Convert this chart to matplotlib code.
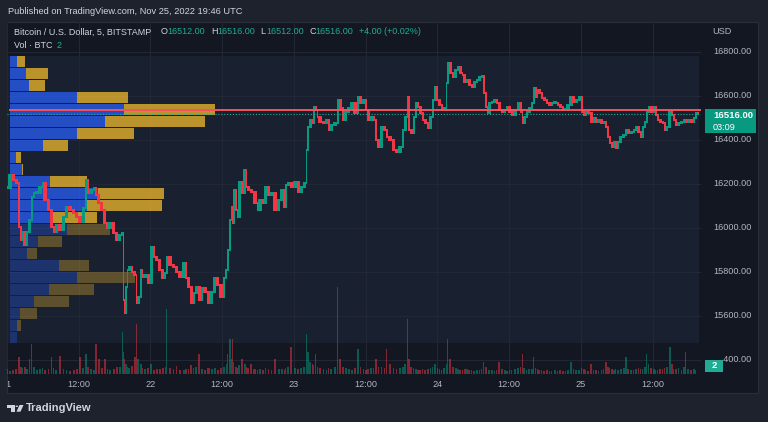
import matplotlib
matplotlib.use("Agg")
import matplotlib.pyplot as plt
import matplotlib.transforms as mtransforms
from matplotlib.patches import Rectangle, Polygon, Circle

plt.rcParams['font.family'] = ['Liberation Sans', 'DejaVu Sans']

# ---- data: BTC/USD 5 min, hours since Nov 21 00:00 UTC (sampled closes) ----
hours = [
    0.2, 0.8, 1.3, 1.8, 2.2, 2.5, 2.7, 3.2, 3.5, 4.0,
    4.3, 4.7, 5.2, 5.9, 6.0, 6.7, 7.2, 7.7, 8.0, 8.5,
    9.2, 9.7, 10.2, 10.9, 11.4, 11.9, 12.5, 13.0, 13.4, 13.7,
    14.4, 14.7, 15.1, 15.6, 16.1, 16.6, 16.9, 17.6, 18.1, 18.6,
    19.1, 19.4, 19.6, 19.7, 20.1, 20.2, 20.7, 21.1, 21.6, 21.7,
    22.2, 22.6, 22.7, 23.4, 23.9, 24.4, 24.8, 25.3, 25.8, 26.3,
    26.6, 26.9, 27.6, 28.1, 28.6, 29.3, 29.8, 30.1, 30.6, 31.1,
    31.4, 31.9, 32.4, 32.8, 33.4, 34.0, 34.5, 35.0, 35.5, 36.1,
    36.5, 36.8, 37.1, 37.5, 37.6, 37.8, 38.1, 38.5, 38.6, 39.1,
    39.5, 40.0, 40.1, 40.6, 41.1, 41.8, 42.0, 42.6, 43.0, 43.5,
    44.0, 44.5, 45.2, 45.7, 46.2, 46.5, 46.8, 47.3, 47.8, 48.5,
    49.0, 49.5, 50.0, 50.2, 50.5, 51.0, 51.2, 51.5, 51.8, 52.0,
    52.7, 53.2, 53.7, 54.0, 54.5, 55.2, 55.5, 56.0, 56.4, 56.9,
    57.4, 57.9, 58.5, 58.9, 59.4, 59.9, 60.2, 60.7, 61.2, 61.5,
    61.9, 62.4, 62.9, 63.4, 63.7, 64.4, 64.9, 65.4, 66.1, 66.4,
    66.9, 67.1, 67.4, 67.9, 68.2, 68.6, 68.9, 69.4, 69.7, 70.2,
    70.6, 71.1, 71.4, 71.8, 72.1, 72.6, 72.9, 73.4, 73.6, 73.9,
    74.4, 74.8, 75.3, 75.6, 76.1, 76.3, 76.8, 77.1, 77.6, 77.9,
    78.4, 78.8, 79.3, 79.6, 79.9, 80.3, 80.4, 80.9, 81.3, 81.8,
    82.1, 82.6, 83.0, 83.5, 83.8, 84.3, 84.6, 85.3, 85.8, 86.1,
    86.3, 86.8, 87.1, 87.6, 88.0, 88.3, 88.6, 88.8, 89.3, 89.6,
    90.1, 90.5, 91.0, 91.3, 92.0, 92.3, 92.8, 93.2, 93.6, 94.1,
    94.6, 95.0, 95.5, 96.0, 96.3, 96.7, 97.0, 97.5, 98.0, 98.3,
    98.7, 99.2, 99.7, 100.0, 100.4, 100.7, 101.0, 101.4, 101.7, 102.0,
    102.4, 102.9, 103.4, 103.7, 104.2, 104.7, 105.0, 105.4, 105.9, 106.2,
    106.5, 106.9, 107.2, 107.5, 108.0, 108.4, 108.7, 109.0, 109.5, 109.9,
    110.2, 110.6, 111.1, 111.4, 111.7, 112.1, 112.6, 113.1, 113.4, 113.7,
    114.2, 114.7, 115.1, 115.4, 115.75,
]
closes = [
    16182, 16241, 16218, 16205, 16005, 15945, 15982, 15923, 15982, 16036,
    16141, 16159, 16159, 16186, 16205, 16127, 16082, 16005, 15982, 16014,
    15991, 16050, 16095, 16082, 16068, 16050, 16027, 16091, 16218, 16159,
    16173, 16182, 16150, 16114, 16082, 16023, 16000, 16023, 15977, 15945,
    15968, 15977, 15673, 15614, 15732, 15809, 15823, 15800, 15786, 15659,
    15686, 15809, 15777, 15786, 15750, 15914, 15868, 15855, 15809, 15773,
    15795, 15868, 15832, 15823, 15800, 15777, 15841, 15773, 15732, 15659,
    15705, 15732, 15673, 15727, 15709, 15659, 15709, 15773, 15741, 15686,
    15773, 15809, 15900, 16036, 16095, 16023, 16173, 16082, 16050, 16209,
    16159, 16264, 16186, 16173, 16164, 16114, 16082, 16127, 16114, 16186,
    16150, 16159, 16082, 16127, 16173, 16095, 16195, 16205, 16186, 16209,
    16164, 16186, 16205, 16355, 16459, 16491, 16477, 16550, 16536, 16505,
    16482, 16477, 16491, 16445, 16468, 16477, 16582, 16545, 16491, 16527,
    16545, 16568, 16523, 16595, 16568, 16582, 16536, 16491, 16505, 16491,
    16400, 16368, 16459, 16445, 16414, 16400, 16355, 16345, 16368, 16445,
    16505, 16595, 16445, 16432, 16505, 16568, 16550, 16523, 16491, 16477,
    16455, 16505, 16582, 16641, 16582, 16559, 16536, 16545, 16659, 16750,
    16705, 16686, 16718, 16732, 16705, 16695, 16664, 16673, 16650, 16641,
    16664, 16673, 16686, 16691, 16614, 16550, 16523, 16568, 16573, 16582,
    16568, 16536, 16527, 16536, 16550, 16527, 16514, 16536, 16568, 16527,
    16477, 16505, 16527, 16545, 16568, 16636, 16595, 16627, 16614, 16591,
    16582, 16568, 16559, 16568, 16568, 16559, 16550, 16536, 16536, 16559,
    16595, 16573, 16582, 16595, 16527, 16514, 16527, 16523, 16482, 16500,
    16482, 16491, 16477, 16482, 16459, 16414, 16386, 16368, 16391, 16364,
    16391, 16414, 16423, 16445, 16432, 16436, 16445, 16459, 16436, 16414,
    16459, 16482, 16527, 16550, 16527, 16550, 16514, 16491, 16482, 16477,
    16445, 16459, 16527, 16514, 16491, 16468, 16477, 16482, 16491, 16482,
    16491, 16482, 16500, 16523, 16516,
]
volumes = [
    20, 14, 18, 22, 68, 30, 24, 28, 20, 60,
    120, 30, 16, 20, 24, 18, 22, 68, 26, 18,
    72, 20, 16, 14, 18, 22, 68, 24, 80, 30,
    22, 18, 120, 60, 24, 60, 20, 16, 22, 28,
    30, 168, 90, 60, 40, 30, 26, 34, 70, 200,
    60, 40, 24, 20, 26, 40, 18, 22, 20, 24,
    30, 260, 24, 20, 32, 18, 16, 20, 22, 36,
    24, 30, 80, 22, 18, 24, 20, 26, 18, 24,
    30, 40, 80, 140, 60, 140, 50, 30, 24, 36,
    60, 40, 28, 24, 40, 20, 18, 22, 16, 24,
    20, 18, 60, 22, 20, 18, 24, 30, 108, 26,
    20, 24, 30, 160, 90, 50, 40, 36, 80, 30,
    24, 20, 18, 26, 22, 30, 348, 60, 30, 24,
    20, 18, 24, 100, 30, 22, 18, 20, 24, 26,
    60, 30, 28, 24, 100, 40, 26, 22, 24, 30,
    40, 220, 60, 30, 24, 20, 18, 16, 20, 18,
    22, 24, 30, 40, 26, 20, 18, 24, 40, 140,
    60, 30, 24, 20, 18, 16, 22, 20, 18, 16,
    14, 16, 18, 20, 48, 30, 24, 18, 16, 14,
    18, 48, 20, 16, 14, 18, 16, 20, 24, 30,
    80, 24, 18, 20, 22, 68, 26, 20, 18, 16,
    14, 16, 12, 14, 16, 14, 18, 12, 14, 16,
    48, 20, 16, 18, 24, 20, 16, 14, 40, 18,
    16, 14, 18, 20, 48, 30, 24, 20, 18, 22,
    18, 20, 24, 68, 22, 18, 16, 20, 24, 22,
    20, 30, 80, 40, 24, 20, 18, 16, 20, 22,
    24, 30, 108, 40, 22, 20, 24, 18, 30, 88,
    20, 18, 22, 16, 2,
]
assert len(hours) == len(closes) == len(volumes)

# volume profile (top row first): up / down volume per price row
vp_high = 16782
vp_low = 15476
vp_up = [7, 16, 19, 67, 114, 95, 67, 33, 6, 12, 40, 88, 77, 43,
         57, 28, 17, 49, 67, 39, 24, 10, 7, 7]
vp_down = [8, 22, 16, 51, 91, 100, 57, 25, 5, 1, 37, 66, 75, 44,
           43, 24, 10, 30, 58, 45, 35, 17, 4, 0]
value_area_rows = 14

last_price = 16516
last_volume = 2
tick_hours = [0, 12, 24, 36, 48, 60, 72, 84, 96, 108]
tick_names = ['21', '12:00', '22', '12:00', '23', '12:00', '24', '12:00', '25', '12:00']
price_ticks = [15400, 15600, 15800, 16000, 16200, 16400, 16600, 16800]

# ---- colours ----
PAGE = '#1e222d'
PANE = '#131722'
VPBG = '#19202f'
GRID = '#222736'
TXT = '#d1d4dc'
AXT = '#b2b5be'
UP = '#089981'
DOWN = '#f23645'
TEAL = '#22ab94'

W, H = 768, 422


def fx(px):
    return px / W


def fy(py):
    return 1 - py / H


fig = plt.figure(figsize=(W / 100, H / 100), dpi=100, facecolor=PAGE)

# chart widget background
fig.patches.append(Rectangle((fx(7), fy(393)), fx(758) - fx(7), fy(22) - fy(393),
                             transform=fig.transFigure, facecolor=PANE,
                             edgecolor='#2a2e39', lw=0.8, zorder=-1))

ax = fig.add_axes([fx(7), fy(374), fx(701) - fx(7), fy(22) - fy(374)])
ax.patch.set_visible(False)
ax.set_xlim(0, 116.1)
ax.set_ylim(15336, 16936)
for s in ax.spines.values():
    s.set_visible(False)

# volume profile range background
ax.add_patch(Rectangle((0, vp_low), hours[-1], vp_high - vp_low,
                       facecolor=VPBG, edgecolor='none', zorder=0.2))

ax.set_axisbelow(True)
ax.set_yticks(price_ticks)
ax.set_yticklabels([''] * len(price_ticks))
ax.set_xticks(tick_hours)
ax.set_xticklabels(tick_names)
ax.grid(True, color=GRID, lw=0.8)
ax.tick_params(axis='y', length=0, left=False, right=False)
ax.tick_params(axis='x', length=0, pad=4.5, labelsize=6.6, labelcolor=AXT)

blend = mtransforms.blended_transform_factory(ax.transAxes, ax.transData)

# price scale labels on the right (the lowest one sits behind the volume badge)
badge_clip = mtransforms.TransformedBbox(mtransforms.Bbox([[fx(723), 0], [1, 1]]), fig.transFigure)
for p in price_ticks:
    t = ax.text(1.0173, p, '%.2f' % p, transform=blend, color=AXT, fontsize=6.6,
                va='center', ha='left', clip_on=False)
    if p == price_ticks[0]:
        t.set_clip_box(badge_clip)
        t.set_clip_on(True)

# first day label is cut by the left edge of the pane
clip = mtransforms.TransformedBbox(mtransforms.Bbox([[fx(7.5), 0], [1, 1]]), fig.transFigure)
for lbl in ax.get_xticklabels():
    lbl.set_clip_box(clip)
    lbl.set_clip_on(True)

# volume profile bars
rows = len(vp_up)
row_h = (vp_high - vp_low) / rows
max_tot = max(u + d for u, d in zip(vp_up, vp_down))
x0 = 0.0043
poc_price = None
for i in range(rows):
    top = vp_high - i * row_h
    bot = top - row_h
    a = 0.72 if i < value_area_rows else 0.3
    wu = vp_up[i] / max_tot * 0.295
    wd = vp_down[i] / max_tot * 0.295
    ax.add_patch(Rectangle((x0, bot + row_h * 0.05), wu, row_h * 0.9, transform=blend,
                           facecolor='#2962ff', alpha=a, lw=0, zorder=1))
    ax.add_patch(Rectangle((x0 + wu, bot + row_h * 0.05), wd, row_h * 0.9, transform=blend,
                           facecolor='#fbc02d', alpha=a, lw=0, zorder=1))
    if vp_up[i] + vp_down[i] == max_tot:
        poc_price = (top + bot) / 2

# candles
opens = [closes[0]] + closes[:-1]
prev = [hours[0] - 0.5] + hours[:-1]
mids = [(p + h) / 2 for p, h in zip(prev, hours)]
widths = [(h - p) * 1.02 for p, h in zip(prev, hours)]
colors = [UP if c >= o else DOWN for o, c in zip(opens, closes)]
bottoms = [min(o, c) - 4 for o, c in zip(opens, closes)]
heights = [max(abs(c - o), 4) + 8 for o, c in zip(opens, closes)]
ax.bar(mids, heights, bottom=bottoms, width=widths, color=colors, lw=0, zorder=2)

ax.axhline(poc_price, xmin=x0, color='#f7525f', lw=1.4, zorder=3)
ax.axhline(last_price, color=TEAL, lw=0.8, ls=(0, (1, 1.6)), zorder=3)

# volume pane overlay
ax2 = ax.twinx()
ax2.bar(mids, volumes, width=[w * 0.6 for w in widths], color=colors, alpha=0.5, lw=0)
ax2.set_ylim(0, max(volumes) * 4.05)
ax2.set_yticks([])
ax2.set_axis_off()

# header texts
fig.text(fx(8), fy(12), 'Published on TradingView.com, Nov 25, 2022 19:46 UTC',
         color=TXT, fontsize=6.7, va='center')
fig.text(fx(14), fy(32), 'Bitcoin / U.S. Dollar, 5, BITSTAMP', color=TXT, fontsize=6.5, va='center')
for lx, letter, val in [(161, 'O', '16512.00'), (211, 'H', '16516.00'),
                        (260, 'L', '16512.00'), (309, 'C', '16516.00')]:
    fig.text(fx(lx), fy(32), letter, color=TXT, fontsize=6.5, va='center')
    fig.text(fx(lx + 6.5), fy(32), val, color=TEAL, fontsize=6.5, va='center')
fig.text(fx(359), fy(32), '+4.00 (+0.02%)', color=TEAL, fontsize=6.5, va='center')
fig.text(fx(14), fy(46), 'Vol · BTC', color=TXT, fontsize=6.5, va='center')
fig.text(fx(57), fy(46), str(last_volume), color=TEAL, fontsize=6.5, va='center')
fig.text(fx(712), fy(32), 'USD', color=AXT, fontsize=6.6, va='center')

# last price badge
fig.patches.append(Rectangle((fx(705), fy(133)), fx(756) - fx(705), fy(109) - fy(133),
                             transform=fig.transFigure, facecolor=UP, lw=0, zorder=1))
fig.text(fx(713), fy(116), '%.2f' % last_price, color='white', fontsize=6.8,
         fontweight='bold', va='center')
fig.text(fx(713), fy(127), '03:09', color='white', fontsize=6.6, va='center')

# last volume badge
fig.patches.append(Rectangle((fx(705), fy(372)), fx(723) - fx(705), fy(360) - fy(372),
                             transform=fig.transFigure, facecolor=TEAL, lw=0, zorder=1))
fig.text(fx(714), fy(366), str(last_volume), color='white', fontsize=6.8,
         fontweight='bold', va='center', ha='center')

# TradingView footer logo
fig.patches.append(Polygon([(fx(7.3), fy(405)), (fx(15), fy(405)), (fx(15), fy(411.7)),
                            (fx(11), fy(411.7)), (fx(11), fy(407.8)), (fx(7.3), fy(407.8))],
                           closed=True, transform=fig.transFigure, facecolor=TXT, lw=0))
fig.patches.append(Circle((fx(16.8), fy(406.3)), 1.3 / W, transform=fig.transFigure,
                          facecolor=TXT, lw=0))
fig.patches.append(Polygon([(fx(19.5), fy(405)), (fx(23.5), fy(405)), (fx(20.5), fy(411.7)),
                            (fx(16.5), fy(411.7))],
                           closed=True, transform=fig.transFigure, facecolor=TXT, lw=0))
fig.text(fx(26), fy(408), 'TradingView', color=TXT, fontsize=8, fontweight='bold', va='center')

fig.savefig('out.png', dpi=100, facecolor=PAGE)
